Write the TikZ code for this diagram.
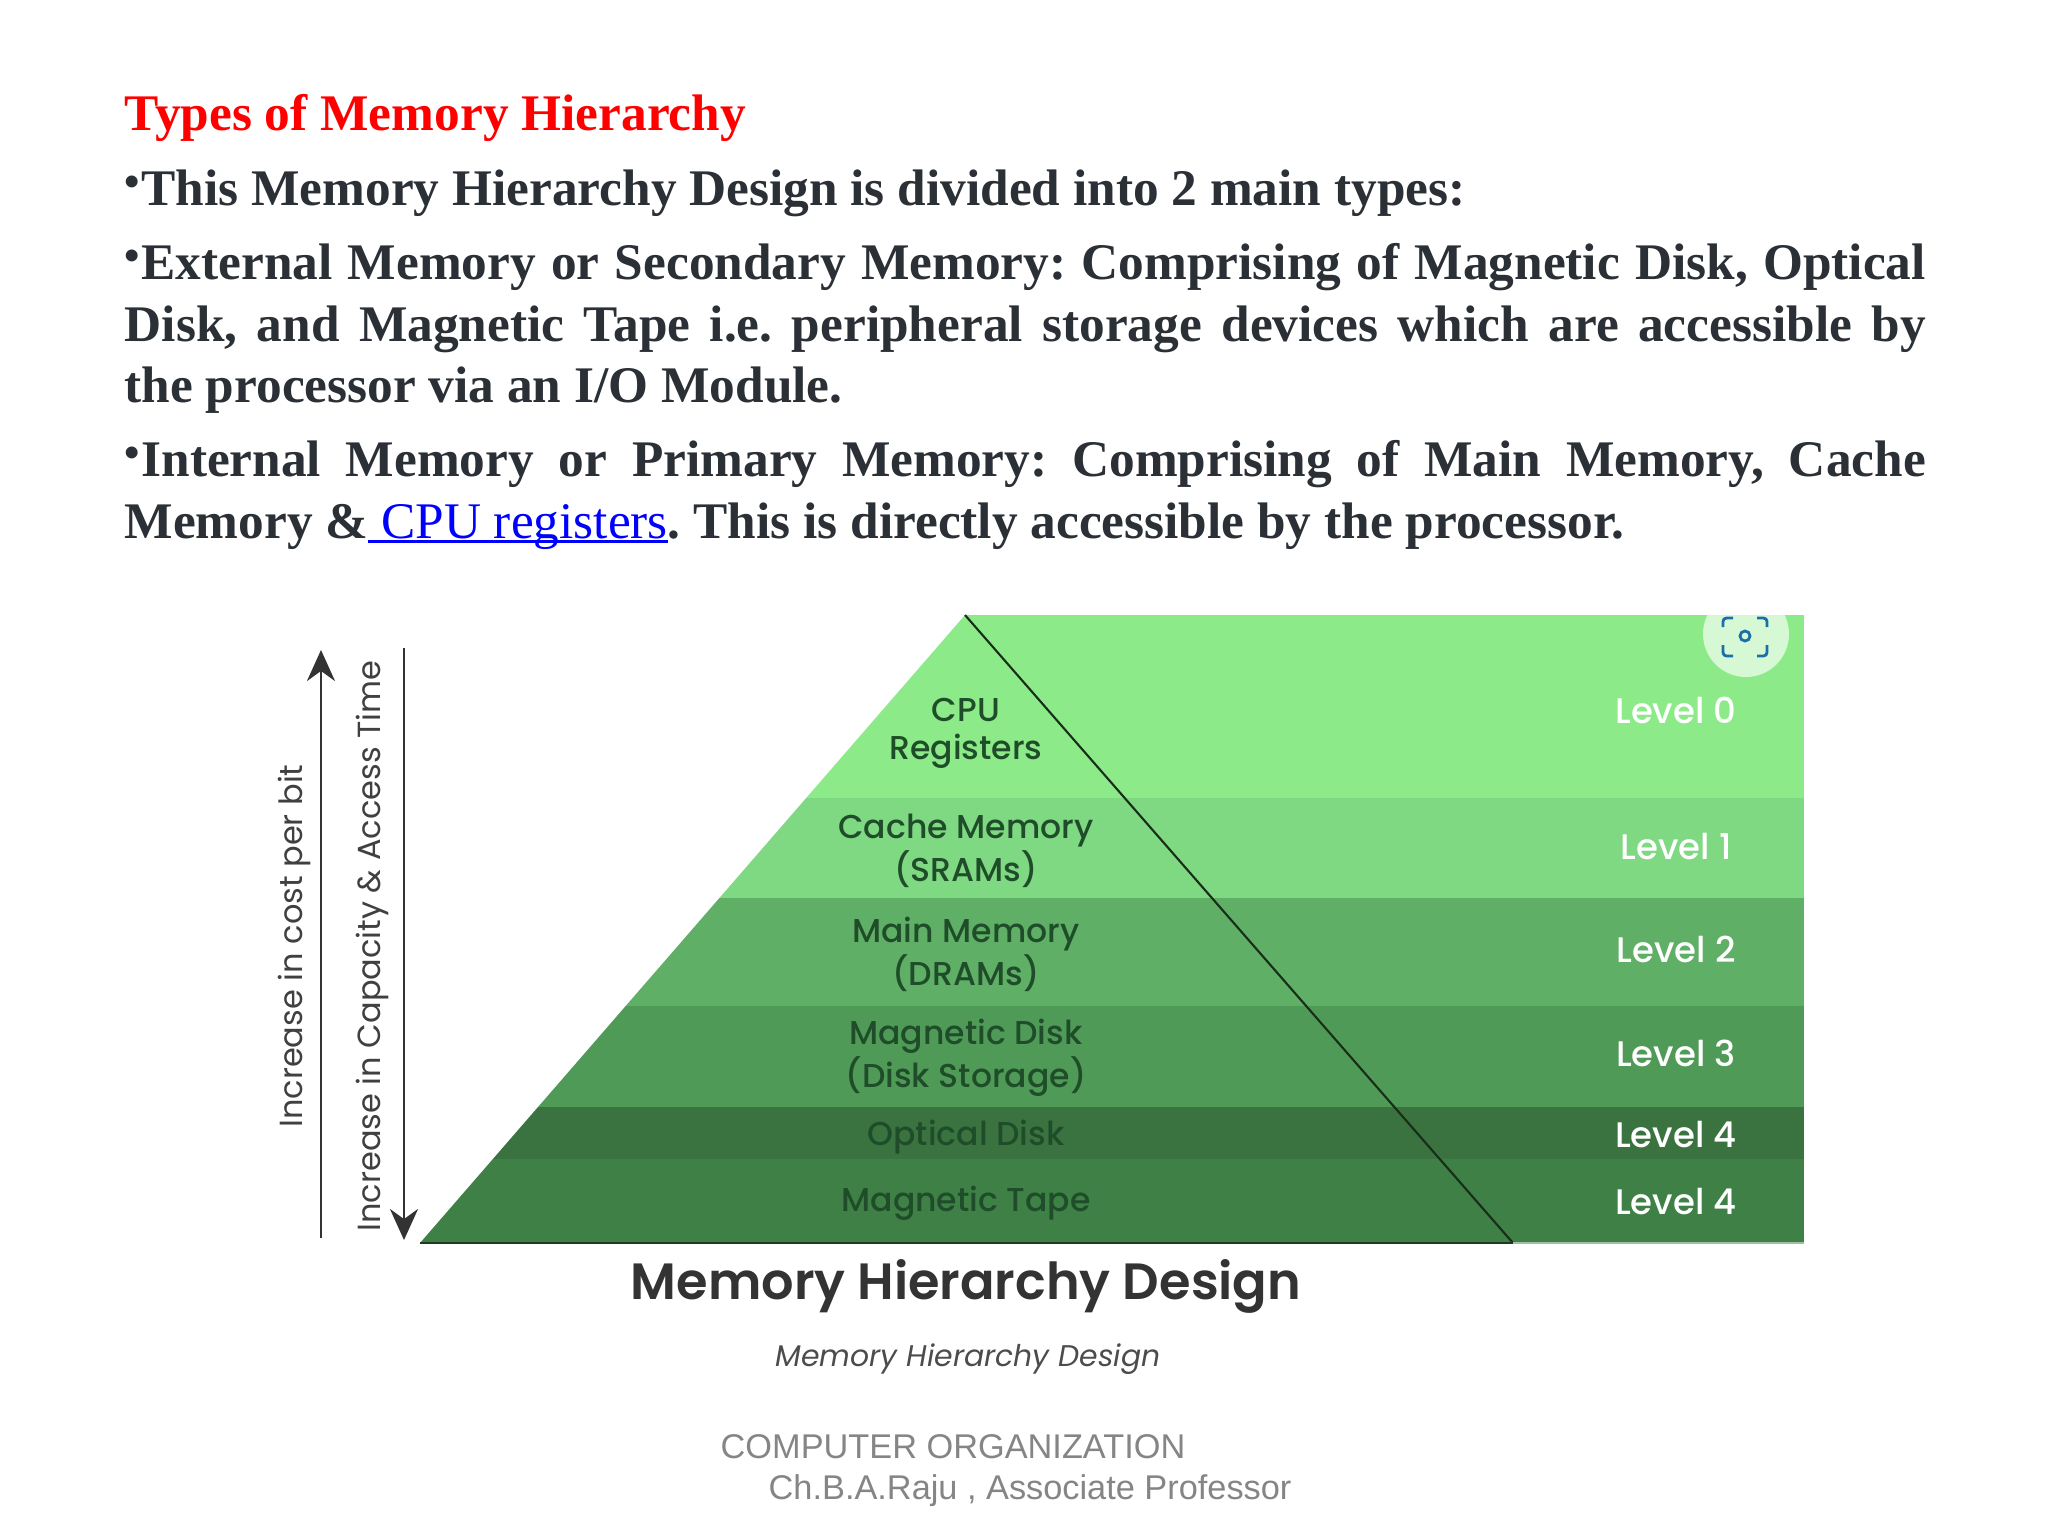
\documentclass[tikz,border=0pt]{standalone}
\usepackage{fontspec}
\setmainfont[HyphenChar=None]{Liberation Serif}
\newfontfamily\diagfont{Poppins Medium}
\newfontfamily\diagheadfont{Poppins SemiBold}
\newfontfamily\diagitfont{Poppins}
\newfontfamily\footfont{Liberation Sans}
\usetikzlibrary{arrows.meta}
\definecolor{bodyink}{HTML}{2B3036}
\definecolor{bandzero}{HTML}{8CEB88}
\definecolor{bandone}{HTML}{7FD882}
\definecolor{bandtwo}{HTML}{60AF66}
\definecolor{bandthree}{HTML}{509A58}
\definecolor{bandfour}{HTML}{3B7340}
\definecolor{bandfive}{HTML}{3E8046}
\definecolor{labelink}{HTML}{1F4D2A}
\definecolor{lensblue}{HTML}{1B6FA8}
\tikzset{
    para/.style={anchor=north west, inner sep=0pt, text width=18cm, align=justify, font=\fontsize{14.6}{17.47}\selectfont\bfseries, text=bodyink},
    tier/.style={align=center, inner sep=0pt, font=\diagfont\fontsize{9.4}{10.8}\selectfont, text=labelink},
    lvl/.style={inner sep=0pt, font=\diagfont\fontsize{10.1}{11}\selectfont, text=white},
    side/.style={rotate=90, inner sep=0pt, font=\diagitfont\fontsize{9.1}{10}\selectfont, text=black!75},
    axisline/.style={draw=black!80, line width=0.8pt, -{Stealth[length=0.31cm, width=0.28cm]}},
    foot/.style={anchor=base west, inner sep=0pt, font=\footfont\fontsize{9.76}{12}\selectfont, text=black!48}
}
\newcommand{\bul}{\raisebox{0.18em}{\fontsize{12.5}{12.5}\selectfont •}\kern0.4pt}
\newcommand{\lineunder}[1]{\setbox0\hbox{#1}\rlap{\rule[-1.2pt]{\wd0}{0.6pt}}\box0}
\begin{document}
\frenchspacing
\begin{tikzpicture}[x=0.01cm, y=-0.01cm]
    \useasboundingbox (0,0) rectangle (2048,1536);
    \coordinate (apex) at (965,615);
    \coordinate (baseL) at (420,1243);
    \coordinate (baseR) at (1513,1243);
    \coordinate (edgeT) at (1804,615);
    \coordinate (edgeB) at (1804,1243);
    % bands
    \begin{scope}
        \clip (apex) -- (edgeT) -- (edgeB) -- (baseL) -- cycle;
        \foreach \ytop/\ybot/\col in {615/798/bandzero, 798/898/bandone, 898/1006/bandtwo, 1006/1107/bandthree, 1107/1159/bandfour, 1159/1243/bandfive}
            \fill[\col] (400,\ytop) rectangle (1804,\ybot);
        % lens badge
        \fill[white!65!bandzero] (1746,634) circle (43);
    \end{scope}
    \draw[lensblue, line width=0.8pt, rounded corners=1pt] (1723,627) -- (1723,618) -- (1733,618);
    \draw[lensblue, line width=0.8pt, rounded corners=1pt] (1757,618) -- (1767,618) -- (1767,627);
    \draw[lensblue, line width=0.8pt, rounded corners=1pt] (1723,645) -- (1723,656) -- (1733,656);
    \draw[lensblue, line width=0.8pt, rounded corners=1pt] (1757,656) -- (1767,656) -- (1767,645);
    \draw[lensblue, line width=0.8pt] (1745,636) circle (5);
    % pyramid edges
    \draw[black!60!bandfour, line width=0.6pt] (apex) -- (baseR);
    \draw[black!50!bandfour, line width=0.6pt] (baseL) -- (baseR);
    \draw[white!50!bandfive, line width=0.7pt] (baseR) -- (edgeB);

    % text block
    \node[anchor=base west, inner sep=0pt, font=\fontsize{14.6}{17.47}\selectfont\bfseries, text=red] (title) at (124,130) {Types of Memory Hierarchy};
    \node[para] (typesline) at (124,169) {\bul This Memory Hierarchy Design is divided into 2 main types:};
    \node[para] (external) at (124,243) {\bul External Memory or Secondary Memory: Comprising of Magnetic Disk, Optical Disk, and Magnetic Tape i.e. peripheral storage devices which are accessible by\linebreak the processor via an I/O Module.};
    \node[para] (internal) at (124,440) {\bul Internal Memory or Primary Memory:~Comprising of Main Memory, Cache Memory \&{\color{blue}\mdseries\lineunder{\ CPU registers}}. This is directly accessible by the processor.};

    % pyramid labels
    \node[tier] (cpu) at (966,733) {CPU\\Registers};
    \node[tier] (cache) at (966,851) {Cache Memory\\(SRAMs)};
    \node[tier] (main) at (966,954) {Main Memory\\(DRAMs)};
    \node[tier] (disk) at (966,1058) {Magnetic Disk\\(Disk Storage)};
    \node[tier] (optical) at (966,1137) {Optical Disk};
    \node[tier] (tape) at (966,1203) {Magnetic Tape};

    % levels
    \node[lvl] (lvlzero) at (1676,710) {Level 0};
    \node[lvl] (lvlone) at (1676,847) {Level 1};
    \node[lvl] (lvltwo) at (1676,949) {Level 2};
    \node[lvl] (lvlthree) at (1676,1053) {Level 3};
    \node[lvl] (lvlfour) at (1676,1134) {Level 4};
    \node[lvl] (lvlfive) at (1676,1202) {Level 4};

    % axes
    \coordinate (costlow) at (321,1238);
    \coordinate (costhigh) at (321,650);
    \coordinate (timetop) at (404,648);
    \coordinate (timelow) at (404,1240);
    \draw[axisline] (costlow) -- (costhigh);
    \draw[axisline] (timetop) -- (timelow);
    \node[side] (costlabel) at (294,946) {Increase in cost per bit};
    \node[side] (timelabel) at (372,946) {Increase in Capacity \& Access Time};

    % captions
    \node[inner sep=0pt, font=\diagheadfont\fontsize{14.5}{15}\selectfont, text=black!80] (heading) at (966,1286) {Memory Hierarchy Design};
    \node[inner sep=0pt, font=\diagitfont\fontsize{8.5}{9}\selectfont\itshape, text=black!70] (caption) at (968,1359) {Memory Hierarchy Design};
    \node[foot] (course) at (720,1458) {COMPUTER ORGANIZATION};
    \node[foot] (staff) at (768,1499) {Ch.B.A.Raju , Associate Professor};
\end{tikzpicture}
\end{document}
